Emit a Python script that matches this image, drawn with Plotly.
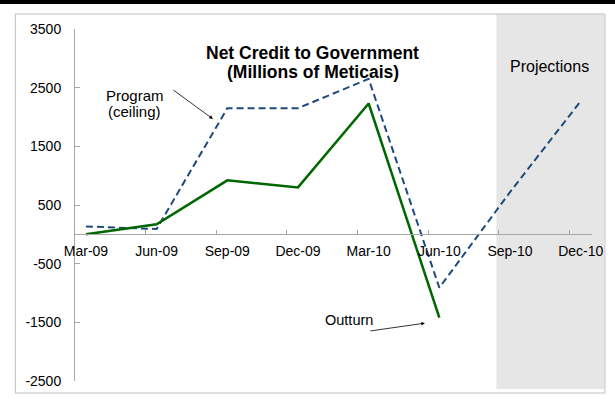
import plotly.graph_objects as go

quarters = ["Mar-09", "Jun-09", "Sep-09", "Dec-09", "Mar-10", "Jun-10", "Sep-10", "Dec-10"]
program_ceiling = [135, 90, 2150, 2150, 2650, -910, 720, 2270]
outturn = [0, 170, 920, 800, 2230, -1420]

y_ticks = [-2500, -1500, -500, 500, 1500, 2500, 3500]
y_labels = ["-2500", "-1500", "-500", "500", "1500", "2500", "3500"]

FONT = "Arial, Liberation Sans, sans-serif"
pos = list(range(len(quarters)))

fig = go.Figure()

fig.add_trace(go.Scatter(
    x=pos, y=program_ceiling,
    mode="lines",
    line=dict(color="#1F497D", width=2, dash="7px,4px"),
    name="Program (ceiling)",
))
fig.add_trace(go.Scatter(
    x=pos[:len(outturn)], y=outturn,
    mode="lines",
    line=dict(color="#006600", width=2.5),
    name="Outturn",
))

# shaded projection band, outer frame, thin black strip at the top
fig.add_shape(type="rect", xref="paper", yref="paper",
              x0=0.815, x1=1.023, y0=-0.0227, y1=1.0426,
              fillcolor="#E6E6E6", line_width=0, layer="below")
fig.add_shape(type="rect", xref="paper", yref="paper",
              x0=-0.1154, x1=1.025, y0=-0.0341, y1=1.0426,
              fillcolor="rgba(0,0,0,0)", line=dict(color="#BFBFBF", width=1))
fig.add_shape(type="rect", xref="paper", yref="paper",
              x0=-0.2, x1=1.1, y0=1.071, y1=1.1,
              fillcolor="black", line_width=0)

# title
fig.add_annotation(text="<b>Net Credit to Government</b>", xref="paper", yref="paper",
                   x=0.46, y=0.966, showarrow=False, font=dict(size=17.5, color="black"))
fig.add_annotation(text="<b>(Millions of Meticais)</b>", xref="paper", yref="paper",
                   x=0.46, y=0.912, showarrow=False, font=dict(size=17.5, color="black"))

# labels
fig.add_annotation(text="Projections", x=6.554, y=2855, showarrow=False,
                   font=dict(size=16, color="black"))
fig.add_annotation(text="Program", x=0.689, y=2360, showarrow=False,
                   font=dict(size=15, color="black"))
fig.add_annotation(text="(ceiling)", x=0.689, y=2087, showarrow=False,
                   font=dict(size=15, color="black"))
fig.add_annotation(x=1.796, y=1967, ax=-41, ay=-30, text="", showarrow=True,
                   arrowhead=2, arrowsize=0.9, arrowwidth=0.8, arrowcolor="black")
fig.add_annotation(text="Outturn", x=3.727, y=-1462, showarrow=False,
                   font=dict(size=14.5, color="black"))
fig.add_annotation(x=4.796, y=-1514, ax=-56, ay=8, text="", showarrow=True,
                   arrowhead=2, arrowsize=0.9, arrowwidth=0.8, arrowcolor="black")

fig.update_layout(
    width=615, height=412,
    margin=dict(l=75, r=20, t=29, b=31),
    paper_bgcolor="white",
    plot_bgcolor="rgba(0,0,0,0)",
    font=dict(family=FONT, size=14, color="black"),
    showlegend=False,
    xaxis=dict(
        range=[-0.155, 7.16],
        tickmode="array", tickvals=pos, ticktext=quarters,
        ticks="", showgrid=False, zeroline=False,
        showline=True, linecolor="#A6A6A6", linewidth=1,
        anchor="free", position=2500 / 6000,
        ticklabelstandoff=4,
        minor=dict(tickvals=[p + 0.844 for p in pos], ticks="inside",
                   ticklen=4, tickcolor="#A6A6A6", showgrid=False),
        tickfont=dict(size=14, color="black"),
    ),
    yaxis=dict(
        range=[-2500, 3500],
        tickmode="array", tickvals=y_ticks, ticktext=y_labels,
        ticks="inside", ticklen=5, tickcolor="#A6A6A6",
        showgrid=False, zeroline=False,
        showline=True, linecolor="#A6A6A6", linewidth=1,
        ticklabelstandoff=10,
        tickfont=dict(size=14, color="black"),
    ),
)

fig.write_html("out.html", config={"displayModeBar": False},
               post_script="document.body.style.margin = '0';")
